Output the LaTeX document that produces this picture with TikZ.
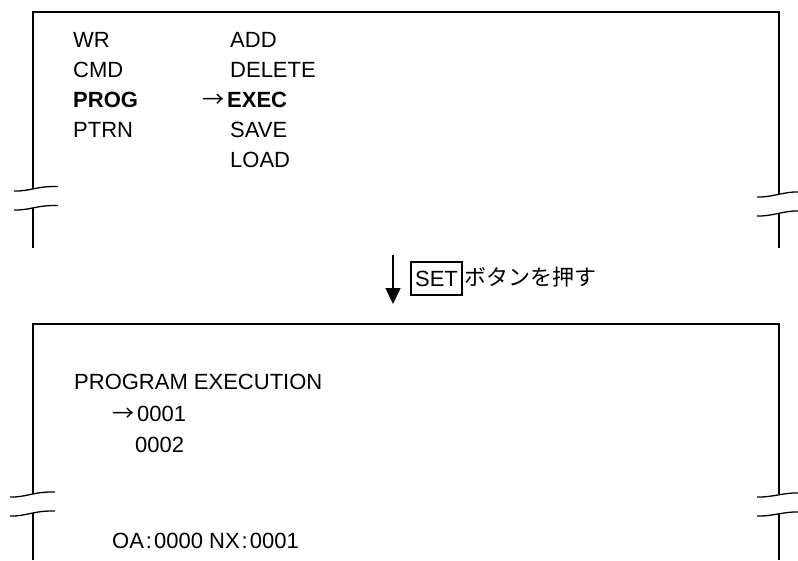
\documentclass[tikz,border=0pt]{standalone}
\usepackage{fontspec}
\setmainfont{Liberation Sans}
\newfontfamily\cjk{Noto Sans CJK JP}
\usetikzlibrary{arrows.meta}
\begin{document}
\begin{tikzpicture}[x=1pt,y=-1pt,
  txt/.style={anchor=base west, inner sep=0pt, font=\fontsize{22}{26}\selectfont},
  boldtxt/.style={txt, font=\fontsize{22}{26}\selectfont\bfseries},
  frame/.style={line width=1.4pt, line cap=butt},
  brk/.style={line width=1.3pt}]
\useasboundingbox (0,0) rectangle (798,560);
% ---------- top screen ----------
\draw[frame] (33,189) -- (33,12) -- (779,12) -- (779,194);
\draw[frame] (33,248) -- (33,208);
\draw[frame] (779,248) -- (779,213);
\draw[brk] (14,191) .. controls (30,191.5) and (36,186) .. (58,186.5);
\draw[brk] (14,210) .. controls (30,210.5) and (36,205) .. (58,205.5);
\draw[brk] (757,197) .. controls (772,197.5) and (784,191.5) .. (798,192);
\draw[brk] (757,216) .. controls (772,216.5) and (784,210.5) .. (798,211);
\node[txt] (wr) at (73,47) {WR};
\node[txt] (cmd) at (73,77) {CMD};
\node[boldtxt] (prog) at (73,107) {PROG};
\node[txt] (ptrn) at (73,137) {PTRN};
\node[txt] (add) at (230,47) {ADD};
\node[txt] (del) at (230,77) {DELETE};
\node[txt] (arr1) at (202,107) {\cjk →};
\node[boldtxt] (exec) at (227,107) {EXEC};
\node[txt] (save) at (230,137) {SAVE};
\node[txt] (load) at (230,167) {LOAD};
% ---------- transition ----------
\coordinate (a1) at (393,255);
\coordinate (a2) at (393,304);
\draw[line width=1.4pt,-{Triangle[width=15pt,length=16pt]}] (a1) -- (a2);
\node[draw, line width=1.3pt, minimum width=51pt, minimum height=33pt, inner sep=0pt,
      font=\fontsize{22}{26}\selectfont] (set) at (436.5,278.5) {SET};
\node[txt] (jp) at (464,285) {\cjk ボタンを押す};
% ---------- bottom screen ----------
\draw[frame] (33,494) -- (33,324) -- (779,324) -- (779,494);
\draw[frame] (33,560) -- (33,513);
\draw[frame] (779,560) -- (779,514);
\draw[brk] (10,497) .. controls (26,497.5) and (33,491.5) .. (55,492);
\draw[brk] (10,516) .. controls (26,516.5) and (33,510.5) .. (55,511);
\draw[brk] (757,497) .. controls (772,497.5) and (784,492.5) .. (798,493);
\draw[brk] (757,516) .. controls (772,516.5) and (784,511.5) .. (798,512);
\node[txt] (title) at (74,389) {PROGRAM EXECUTION};
\node[txt] (arr2) at (112,421) {\cjk →};
\node[txt] (p1) at (137,421) {0001};
\node[txt] (p2) at (135,452) {0002};
\node[txt] (oa) at (112,548) {OA\kern2pt:\kern2pt0000 NX\kern2pt:\kern2pt0001};
\end{tikzpicture}
\end{document}
